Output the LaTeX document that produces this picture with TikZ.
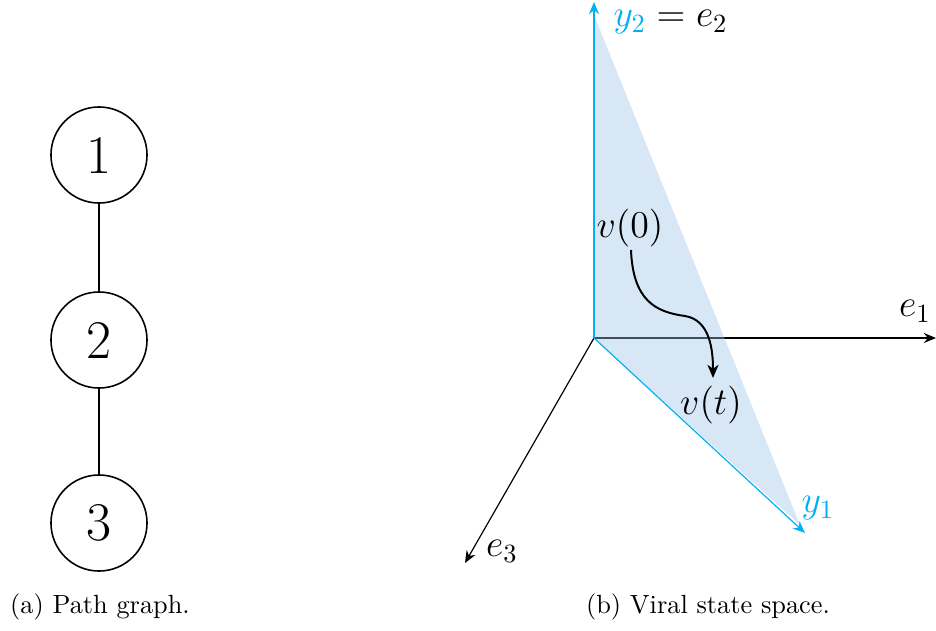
\documentclass[tikz,border=0pt]{standalone}
\usetikzlibrary{arrows.meta}
\definecolor{axblue}{RGB}{0,176,240}
\definecolor{planefill}{RGB}{157,195,230}
\begin{document}
\begin{tikzpicture}[x=0.38pt,y=-0.38pt,
  vertex/.style={draw,circle,line width=0.6pt,minimum size=36.5pt,inner sep=0pt,font=\fontsize{20.7}{24}\selectfont},
  edge/.style={line width=0.6pt},
  axis/.style={line width=0.45pt,-{Stealth[length=4.6pt,width=3.8pt]}},
  baxis/.style={axis,draw=axblue},
  lab/.style={font=\fontsize{14}{16}\selectfont,inner sep=0pt},
  captext/.style={font=\fontsize{10}{12}\selectfont,inner sep=0pt}]
\useasboundingbox (0,0) rectangle (936,631);
% (a) path graph
\node[vertex] (n1) at (99,155) {1};
\node[vertex] (n2) at (99,340) {2};
\node[vertex] (n3) at (99,523) {3};
\draw[edge] (n1) -- (n2);
\draw[edge] (n2) -- (n3);
\node[captext] (capa) at (100,607) {(a) Path graph.};
% (b) state space
\coordinate (O) at (594,338);
\coordinate (E1) at (936,338);
\coordinate (E3) at (465,563);
\coordinate (Y2) at (594,2);
\coordinate (Y1) at (805,533);
\coordinate (T) at (594,15);
\coordinate (B) at (800,525);
\draw[axis] (O) -- (E1);
\draw[axis] (O) -- (E3);
\fill[planefill,fill opacity=0.4] (O) -- (T) -- (B) -- cycle;
\draw[baxis] (O) -- (Y2);
\draw[baxis] (O) -- (Y1);
\node[lab,anchor=west] (ly2) at (613,22) {$\color{axblue}y_2\color{black} = e_2$};
\node[lab] (le1) at (915,311) {$e_1$};
\node[lab] (le3) at (502,551) {$e_3$};
\node[lab,text=axblue] (ly1) at (818,508) {$y_1$};
\node[lab] (v0) at (630,228) {$v(0)$};
\node[lab] (vt) at (711,405) {$v(t)$};
\draw[line width=0.75pt,-{Stealth[length=5pt,width=4.2pt,inset=1.5pt]}] (631,250) .. controls (633,300) and (655,312) .. (685,316) .. controls (710,320) and (713,350) .. (713,378);
\node[captext] (capb) at (708,607) {(b) Viral state space.};
\end{tikzpicture}
\end{document}
